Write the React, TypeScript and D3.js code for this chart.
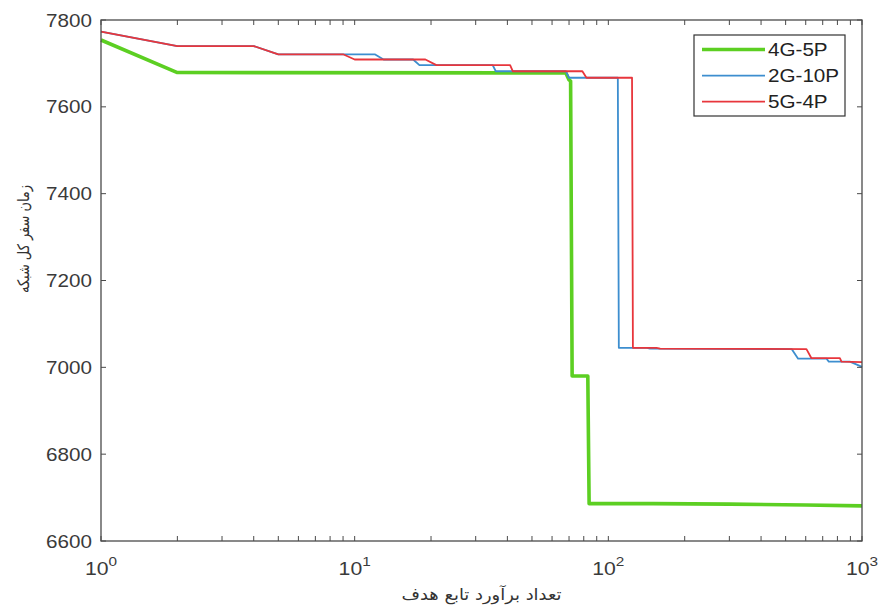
import React from "react";
import * as d3 from "d3";

const W = 880;
const H = 609;
const M = { left: 101, right: 862, top: 20, bottom: 541 };

const xDomain: [number, number] = [1, 1000];
const yDomain: [number, number] = [6600, 7800];
const yTicks = [6600, 6800, 7000, 7200, 7400, 7600, 7800];
const xMajor = [1, 10, 100, 1000];
const xMajorExp = ["0", "1", "2", "3"];

const seriesNames = ["4G-5P", "2G-10P", "5G-4P"];
const seriesColors = ["#5ccf22", "#3d8ecf", "#e8363c"];
const seriesWidths = [3.6, 1.8, 1.8];

// [evaluations, total travel time]
const g4p5: [number, number][] = [
  [1, 7754], [2, 7679], [68, 7678], [70, 7662], [71, 7659], [72, 6980],
  [83, 6980], [84, 6686], [150, 6686], [300, 6685], [600, 6683], [1000, 6681],
];
const g2p10: [number, number][] = [
  [1, 7773], [2, 7740], [4, 7740], [5, 7721], [12, 7721], [13, 7709],
  [17, 7709], [18, 7696], [35, 7696], [36, 7682], [68, 7682], [70, 7667],
  [109, 7667], [110, 7045], [142, 7045], [146, 7043], [528, 7042], [560, 7020],
  [725, 7020], [740, 7013], [896, 7013], [1000, 7001],
];
const g5p4: [number, number][] = [
  [1, 7773], [2, 7740], [4, 7740], [5, 7721], [9, 7721], [10, 7709],
  [19, 7709], [21, 7696], [41, 7696], [42, 7682], [79, 7682], [82, 7667],
  [124, 7667], [125, 7045], [155, 7045], [160, 7043], [604, 7042], [632, 7021],
  [818, 7021], [830, 7013], [1000, 7012],
];
const seriesData = [g4p5, g2p10, g5p4];

const xLabel = "تعداد برآورد تابع هدف";
const yLabel = "زمان سفر کل شبکه";

const FONT = "'Liberation Sans', Arial, sans-serif";
const SX = 1.18;

function ST(props: { x: number; y: number; anchor?: string; size: number; children: React.ReactNode; fill?: string }) {
  return (
    <text
      transform={`translate(${props.x},${props.y}) scale(${SX},1)`}
      textAnchor={props.anchor || "start"}
      fontSize={props.size}
      fontFamily={FONT}
      fill={props.fill || "#3a3a3a"}
    >
      {props.children}
    </text>
  );
}

export default function App() {
  const x = d3.scaleLog().domain(xDomain).range([M.left, M.right]);
  const y = d3.scaleLinear().domain(yDomain).range([M.bottom, M.top]);
  const line = d3
    .line<[number, number]>()
    .x((d) => x(d[0]))
    .y((d) => y(d[1]));

  const minor: number[] = [];
  for (let dec = 1; dec < 1000; dec *= 10) {
    for (let k = 2; k <= 9; k++) minor.push(dec * k);
  }
  const tl = 5;
  const axisColor = "#4a4a4a";

  const legend = { x0: 694, y0: 35, w: 151, h: 81 };
  const rowY = [49.5, 75.7, 101.7];

  return (
    <div style={{ position: "absolute", left: 0, top: 0 }}>
      <svg width={W} height={H} style={{ display: "block", background: "#fff" }}>
        <rect x={0} y={0} width={W} height={H} fill="#fff" />
        {/* series */}
        <g fill="none" strokeLinejoin="round">
          {seriesData.map((s, i) => (
            <path key={i} d={line(s) || ""} stroke={seriesColors[i]} strokeWidth={seriesWidths[i]} />
          ))}
        </g>
        {/* axes box */}
        <rect
          x={M.left}
          y={M.top}
          width={M.right - M.left}
          height={M.bottom - M.top}
          fill="none"
          stroke={axisColor}
          strokeWidth={1.3}
        />
        {/* x ticks */}
        {[...xMajor, ...minor].map((v, i) => (
          <g key={"xt" + i} stroke={axisColor} strokeWidth={1}>
            <line x1={x(v)} x2={x(v)} y1={M.bottom} y2={M.bottom - tl} />
            <line x1={x(v)} x2={x(v)} y1={M.top} y2={M.top + tl} />
          </g>
        ))}
        {/* y ticks */}
        {yTicks.map((v, i) => (
          <g key={"yt" + i} stroke={axisColor} strokeWidth={1}>
            <line x1={M.left} x2={M.left + tl} y1={y(v)} y2={y(v)} />
            <line x1={M.right} x2={M.right - tl} y1={y(v)} y2={y(v)} />
          </g>
        ))}
        {/* y tick labels */}
        {yTicks.map((v, i) => (
          <ST key={"yl" + i} x={M.left - 9} y={y(v) + 6.5} anchor="end" size={17.5}>
            {String(v)}
          </ST>
        ))}
        {/* x tick labels */}
        {xMajor.map((v, i) => (
          <ST key={"xl" + i} x={x(v)} y={575} anchor="middle" size={18}>
            <tspan>10</tspan>
            <tspan fontSize={13} dy={-9}>
              {xMajorExp[i]}
            </tspan>
          </ST>
        ))}
        {/* axis titles */}
        <text
          x={(M.left + M.right) / 2}
          y={600}
          textAnchor="middle"
          fontSize={16}
          fontFamily="'DejaVu Sans', sans-serif"
          fill="#333"
          textLength={160}
          lengthAdjust="spacingAndGlyphs"
          direction="rtl"
        >
          {xLabel}
        </text>
        <text
          transform={`translate(29,239) rotate(-90)`}
          textAnchor="middle"
          fontSize={16}
          fontFamily="'DejaVu Sans', sans-serif"
          fill="#333"
          textLength={108}
          lengthAdjust="spacingAndGlyphs"
          direction="rtl"
        >
          {yLabel}
        </text>
        {/* legend */}
        <rect
          x={legend.x0}
          y={legend.y0}
          width={legend.w}
          height={legend.h}
          fill="#fff"
          stroke="#333"
          strokeWidth={1.2}
        />
        {seriesNames.map((n, i) => (
          <g key={"lg" + i}>
            <line x1={702} x2={765} y1={rowY[i]} y2={rowY[i]} stroke={seriesColors[i]} strokeWidth={seriesWidths[i]} />
            <ST x={768} y={rowY[i] + 6.3} size={17.5} fill="#222">
              {n}
            </ST>
          </g>
        ))}
      </svg>
    </div>
  );
}
